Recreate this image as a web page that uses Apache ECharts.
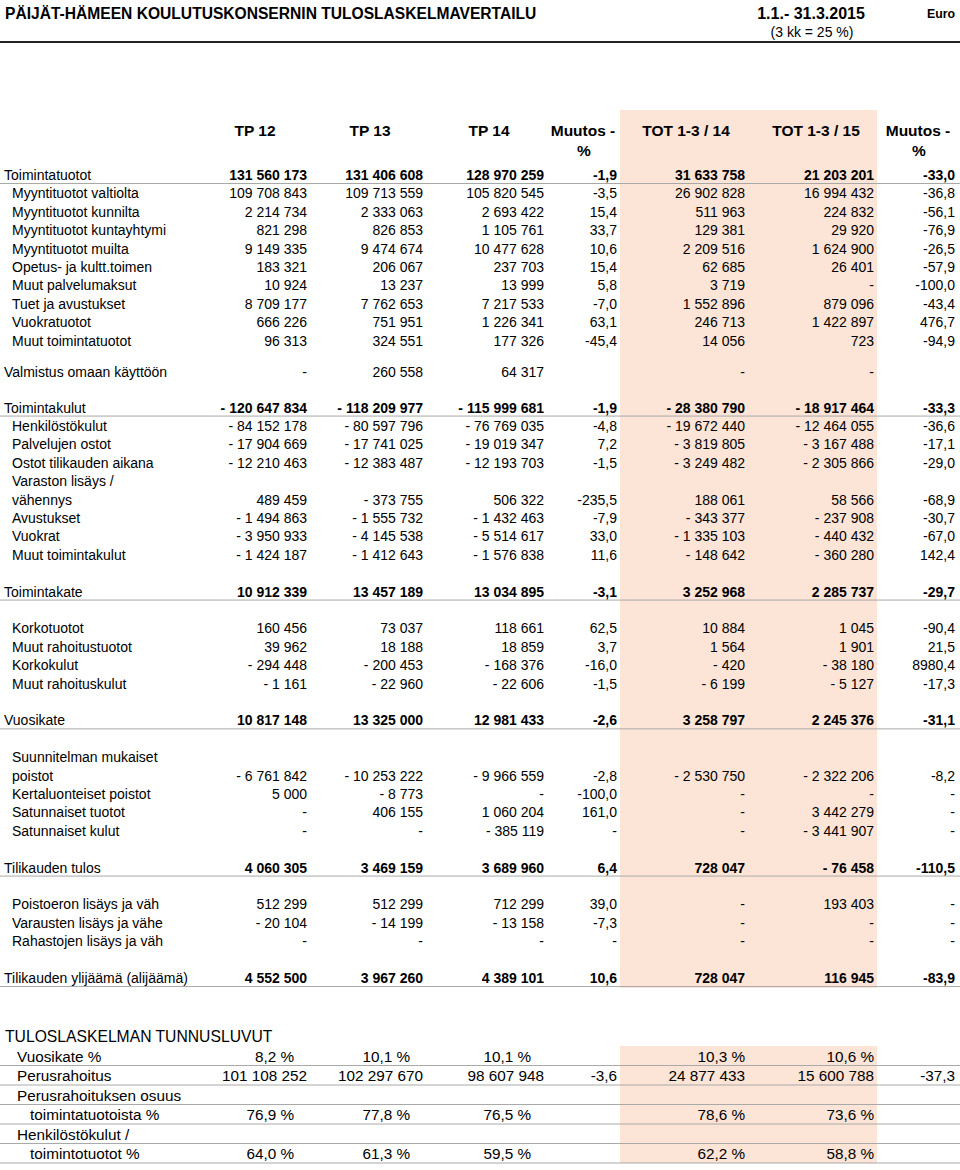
<!DOCTYPE html>
<html>
<head>
<meta charset="utf-8">
<title>Tuloslaskelmavertailu</title>
<script src="https://cdn.jsdelivr.net/npm/echarts@6/dist/echarts.min.js"></script>
<style>
  html, body { margin: 0; padding: 0; background: #fff; }
  #chart { width: 960px; height: 1170px; }
</style>
</head>
<body>
<div id="chart"></div>
<script>
// --- data ---
const headers = ["TP 12", "TP 13", "TP 14", "Muutos -", "TOT 1-3 / 14", "TOT 1-3 / 15", "Muutos -"];

const rowLabels = [
  "Toimintatuotot", "Myyntituotot valtiolta", "Myyntituotot kunnilta", "Myyntituotot kuntayhtymi",
  "Myyntituotot muilta", "Opetus- ja kultt.toimen", "Muut palvelumaksut", "Tuet ja avustukset",
  "Vuokratuotot", "Muut toimintatuotot", "Valmistus omaan käyttöön", "Toimintakulut",
  "Henkilöstökulut", "Palvelujen ostot", "Ostot tilikauden aikana", "Varaston lisäys /",
  "vähennys", "Avustukset", "Vuokrat", "Muut toimintakulut", "Toimintakate",
  "Korkotuotot", "Muut rahoitustuotot", "Korkokulut", "Muut rahoituskulut", "Vuosikate",
  "Suunnitelman mukaiset", "poistot", "Kertaluonteiset poistot", "Satunnaiset tuotot",
  "Satunnaiset kulut", "Tilikauden tulos", "Poistoeron lisäys ja väh", "Varausten lisäys ja vähe",
  "Rahastojen lisäys ja väh", "Tilikauden ylijäämä (alijäämä)"
];

// 0 = "-", null = empty cell
const tp12 = [131560173, 109708843, 2214734, 821298, 9149335, 183321, 10924, 8709177, 666226, 96313,
  0, -120647834, -84152178, -17904669, -12210463, null, 489459, -1494863, -3950933, -1424187,
  10912339, 160456, 39962, -294448, -1161, 10817148, null, -6761842, 5000, 0, 0, 4060305,
  512299, -20104, 0, 4552500];
const tp13 = [131406608, 109713559, 2333063, 826853, 9474674, 206067, 13237, 7762653, 751951, 324551,
  260558, -118209977, -80597796, -17741025, -12383487, null, -373755, -1555732, -4145538, -1412643,
  13457189, 73037, 18188, -200453, -22960, 13325000, null, -10253222, -8773, 406155, 0, 3469159,
  512299, -14199, 0, 3967260];
const tp14 = [128970259, 105820545, 2693422, 1105761, 10477628, 237703, 13999, 7217533, 1226341, 177326,
  64317, -115999681, -76769035, -19019347, -12193703, null, 506322, -1432463, -5514617, -1576838,
  13034895, 118661, 18859, -168376, -22606, 12981433, null, -9966559, 0, 1060204, -385119, 3689960,
  712299, -13158, 0, 4389101];
const change1 = [-1.9, -3.5, 15.4, 33.7, 10.6, 15.4, 5.8, -7.0, 63.1, -45.4,
  null, -1.9, -4.8, 7.2, -1.5, null, -235.5, -7.9, 33.0, 11.6,
  -3.1, 62.5, 3.7, -16.0, -1.5, -2.6, null, -2.8, -100.0, 161.0, 0, 6.4,
  39.0, -7.3, 0, 10.6];
const tot14 = [31633758, 26902828, 511963, 129381, 2209516, 62685, 3719, 1552896, 246713, 14056,
  0, -28380790, -19672440, -3819805, -3249482, null, 188061, -343377, -1335103, -148642,
  3252968, 10884, 1564, -420, -6199, 3258797, null, -2530750, 0, 0, 0, 728047,
  0, 0, 0, 728047];
const tot15 = [21203201, 16994432, 224832, 29920, 1624900, 26401, 0, 879096, 1422897, 723,
  0, -18917464, -12464055, -3167488, -2305866, null, 58566, -237908, -440432, -360280,
  2285737, 1045, 1901, -38180, -5127, 2245376, null, -2322206, 0, 3442279, -3441907, -76458,
  193403, 0, 0, 116945];
const change2 = [-33.0, -36.8, -56.1, -76.9, -26.5, -57.9, -100.0, -43.4, 476.7, -94.9,
  null, -33.3, -36.6, -17.1, -29.0, null, -68.9, -30.7, -67.0, 142.4,
  -29.7, -90.4, 21.5, 8980.4, -17.3, -31.1, null, -8.2, 0, 0, 0, -110.5,
  0, 0, 0, -83.9];

const boldRows = [0, 11, 20, 25, 31, 35];
const topLevelRows = [0, 10, 11, 20, 25, 31, 35];

const kpiTitle = "TULOSLASKELMAN TUNNUSLUVUT";
const kpiLabels = ["Vuosikate %", "Perusrahoitus", "Perusrahoituksen osuus", "toimintatuotoista %",
  "Henkilöstökulut /", "toimintotuotot %"];
const kpiKind = ["pct", "eur", "", "pct", "", "pct"];
const kpiTp12 = [8.2, 101108252, null, 76.9, null, 64.0];
const kpiTp13 = [10.1, 102297670, null, 77.8, null, 61.3];
const kpiTp14 = [10.1, 98607948, null, 76.5, null, 59.5];
const kpiChange1 = [null, -3.6, null, null, null, null];
const kpiTot14 = [10.3, 24877433, null, 78.6, null, 62.2];
const kpiTot15 = [10.6, 15600788, null, 73.6, null, 58.8];
const kpiChange2 = [null, -37.3, null, null, null, null];

// --- layout ---
const FONT = '"Liberation Sans", Arial, sans-serif';
const colRight = [307, 423, 544, 617, 745, 874, 955];
const colHeadCenter = [255, 370, 489, 583, 686, 816, 918];
const ROW_TOP = 175, ROW_STEP = 18.4;
const gapBefore = { 10: 0.68, 11: 0.96, 20: 1, 21: 1, 25: 1, 26: 1, 31: 1, 32: 1, 35: 1 };
const KPI_TOP = 1056, KPI_STEP = 19.5;

const rowY = [];
rowLabels.forEach((_, i) => {
  if (i === 0) rowY.push(ROW_TOP);
  else rowY.push(rowY[i - 1] + ROW_STEP * (1 + (gapBefore[i] || 0)));
});
const kpiY = kpiLabels.map((_, i) => KPI_TOP + i * KPI_STEP);

// --- formatting ---
function group(n) {
  return String(Math.abs(n)).replace(/\B(?=(\d{3})+(?!\d))/g, " ");
}
function fmtEur(v) {
  if (v === null) return "";
  if (v === 0) return "-";
  return v < 0 ? "- " + group(v) : group(v);
}
function fmtChg(v) {
  if (v === null) return "";
  if (v === 0) return "-";
  return v.toFixed(1).replace(".", ",");
}
function fmtPct(v) {
  if (v === null) return "";
  return v.toFixed(1).replace(".", ",") + " %";
}

// --- cells ---
const cells = [];
function addCell(x, y, text, align, bold, size) {
  if (text === "") return;
  cells.push({ x, y, text, align, bold, size });
}

addCell(5, 13, "PÄIJÄT-HÄMEEN KOULUTUSKONSERNIN TULOSLASKELMAVERTAILU", "left", true, 15.6);
addCell(811, 13, "1.1.- 31.3.2015", "center", true, 16);
addCell(812, 32, "(3 kk = 25 %)", "center", false, 14);
addCell(955, 14, "Euro", "right", true, 12.3);

headers.forEach((h, c) => {
  addCell(colHeadCenter[c], 130, h, "center", true, 15.5);
  if (c === 3 || c === 6) addCell(colHeadCenter[c] + 1, 150, "%", "center", true, 15.5);
});

const mainCols = [tp12, tp13, tp14, change1, tot14, tot15, change2];
const mainFmt = [fmtEur, fmtEur, fmtEur, fmtChg, fmtEur, fmtEur, fmtChg];
rowLabels.forEach((label, i) => {
  const bold = boldRows.includes(i);
  addCell(topLevelRows.includes(i) ? 4 : 12, rowY[i], label, "left", false, 14);
  mainCols.forEach((col, c) => {
    addCell(colRight[c], rowY[i], mainFmt[c](col[i]), "right", bold, 14);
  });
});

addCell(5, 1036, kpiTitle, "left", false, 15.7);
const kpiCols = [kpiTp12, kpiTp13, kpiTp14, kpiChange1, kpiTot14, kpiTot15, kpiChange2];
kpiLabels.forEach((label, i) => {
  const indented = label.charAt(0) === label.charAt(0).toLowerCase();
  addCell(indented ? 30 : 17, kpiY[i], label, "left", false, 15.3);
  kpiCols.forEach((col, c) => {
    const isChg = c === 3 || c === 6;
    let text, x = colRight[c];
    if (isChg) text = fmtChg(col[i]);
    else if (kpiKind[i] === "pct") { text = fmtPct(col[i]); if (c < 3) x -= 13; }
    else text = fmtEur(col[i]);
    addCell(x, kpiY[i], text, "right", false, 15.3);
  });
});

// --- rules & shading ---
const rules = [{ x1: 0, x2: 960, y: 42, w: 2, color: "#222" }];
boldRows.forEach((i) => rules.push({ x1: 0, x2: 960, y: rowY[i] + 8.5, w: 1, color: "#a9a9a9" }));
kpiY.forEach((y) => rules.push({ x1: 0, x2: 960, y: y + 9.5, w: 1, color: "#a9a9a9" }));

const shades = [
  { x1: 620, x2: 877, y1: 110, y2: 988 },
  { x1: 620, x2: 877, y1: 1046, y2: 1163 }
];

const chart = echarts.init(document.getElementById("chart"), null, { renderer: "svg" });
chart.setOption({
  animation: false,
  backgroundColor: "#fff",
  grid: { left: 0, right: 0, top: 0, bottom: 0 },
  xAxis: { type: "value", min: 0, max: 960, show: false },
  yAxis: { type: "value", min: 0, max: 1170, inverse: true, show: false },
  series: [
    {
      type: "custom",
      z: 1,
      clip: false,
      data: shades.map((s) => [s.x1, s.y1]),
      renderItem: (params, api) => {
        const s = shades[params.dataIndex];
        const a = api.coord([s.x1, s.y1]);
        const b = api.coord([s.x2, s.y2]);
        return { type: "rect", shape: { x: a[0], y: a[1], width: b[0] - a[0], height: b[1] - a[1] }, style: { fill: "#fce4d6" } };
      }
    },
    {
      type: "custom",
      z: 2,
      clip: false,
      data: rules.map((r) => [r.x1, r.y]),
      renderItem: (params, api) => {
        const r = rules[params.dataIndex];
        const a = api.coord([r.x1, r.y]);
        const b = api.coord([r.x2, r.y]);
        return { type: "line", shape: { x1: a[0], y1: a[1], x2: b[0], y2: b[1] }, style: { stroke: r.color, lineWidth: r.w } };
      }
    },
    {
      type: "custom",
      z: 3,
      clip: false,
      data: cells.map((c) => [c.x, c.y]),
      renderItem: (params, api) => {
        const c = cells[params.dataIndex];
        const p = api.coord([c.x, c.y]);
        return {
          type: "text",
          x: p[0],
          y: p[1],
          style: {
            text: c.text,
            fill: "#000",
            font: (c.bold ? "bold " : "") + c.size + "px " + FONT,
            textAlign: c.align,
            textVerticalAlign: "middle",
            align: c.align,
            verticalAlign: "middle"
          }
        };
      }
    }
  ]
});
</script>
</body>
</html>
